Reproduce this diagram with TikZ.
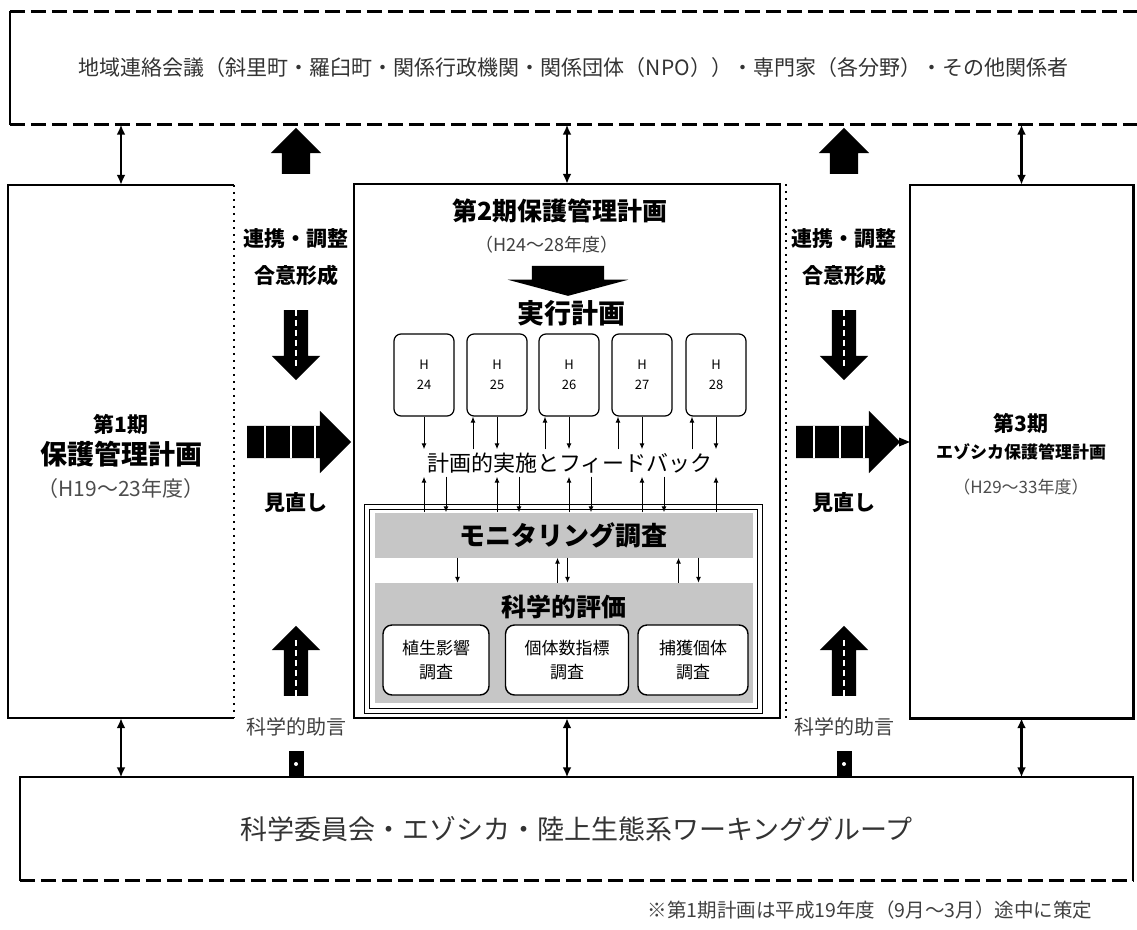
\documentclass[tikz,border=0pt]{standalone}
\usepackage{fontspec}
\setmainfont{Noto Sans CJK JP}
\usetikzlibrary{shapes,arrows,arrows.meta,positioning}
\tikzset{
	plan/.style     = {inner sep=0pt},
	edge/.style     = {line width=2pt},
	dashline/.style = {line width=2.6pt, dash pattern=on 15pt off 6pt},
	dotline/.style  = {line width=2pt, dash pattern=on 2pt off 5pt},
	yearbox/.style  = {draw, line width=1.2pt, rounded corners=7pt, minimum width=60pt,
		minimum height=82pt, align=center, font=\fontsize{13}{20}\selectfont},
	band/.style     = {fill=gray!45, inner sep=0pt},
	survey/.style   = {draw, line width=1.4pt, fill=white, rounded corners=9pt,
		minimum height=70pt, align=center, font=\fontsize{17}{24}\selectfont},
	fat/.style      = {single arrow, fill=black, inner sep=0pt, single arrow head extend=12pt},
	both/.style     = {{Latex[length=10pt,width=9pt]}-{Latex[length=10pt,width=9pt]}, line width=2.2pt},
	thin/.style     = {>={Latex[length=6pt,width=5pt]}, line width=1pt},
	seam/.style     = {white, line width=1.6pt, dash pattern=on 6pt off 4pt, shorten >=14pt},
	side/.style     = {font=\fontsize{21}{24}\selectfont\bfseries}
}
\newcommand{\yr}[1]{H\\#1}
\newcommand{\shaft}[1]{\rule{0pt}{#1}}

\begin{document}
\begin{tikzpicture}[x=1pt, y=-1pt]
	\useasboundingbox (0,0) rectangle (1137,929);

	% upper and lower frames
	\node (council) at (573.5,68) [plan, minimum width=1127pt, minimum height=113pt,
		text=black!80, font=\fontsize{21}{24}\selectfont]
		{地域連絡会議（斜里町・羅臼町・関係行政機関・関係団体（NPO））・専門家（各分野）・その他関係者};
	\draw[dashline] (council.north west) -- (council.north east);
	\draw[dashline] (council.south west) -- (council.south east);
	\draw[edge] (council.north west) -- (council.south west);

	\node (wg) at (576.5,829) [plan, minimum width=1113pt, minimum height=103pt,
		text=black!80, font=\fontsize{27}{30}\selectfont]
		{科学委員会・エゾシカ・陸上生態系ワーキンググループ};
	\draw[edge] (wg.south west) -- (wg.north west) -- (wg.north east) -- (wg.south east);
	\draw[dashline] (wg.south west) -- (wg.south east);

	% the three plans
	\node (plan1) at (121,451.5) [plan, minimum width=226pt, minimum height=533pt] {};
	\draw[edge] (plan1.north east) -- (plan1.north west) -- (plan1.south west) -- (plan1.south east);
	\draw[dotline] (plan1.north east) -- (plan1.south east);
	\node (plan2) at (567,451) [plan, minimum width=426pt, minimum height=534pt] {};
	\draw[edge] (plan2.north west) rectangle (plan2.south east);
	\draw[dotline] ([xshift=6pt]plan2.north east) -- ([xshift=6pt]plan2.south east);
	\node (plan3) at (1021.5,451.5) [plan, minimum width=223pt, minimum height=533pt] {};
	\draw[edge, line width=2.6pt] (plan3.north west) rectangle (plan3.south east);

	\node (p1a) at (121,424) [font=\fontsize{21}{24}\selectfont\bfseries] {第1期};
	\node (p1b) at (121,454) [font=\fontsize{27}{30}\selectfont\bfseries] {保護管理計画};
	\node (p1c) at (121,489) [text=black!70, font=\fontsize{21}{24}\selectfont] {（H19〜23年度）};
	\node (p3a) at (1021,423) [font=\fontsize{21}{24}\selectfont\bfseries] {第3期};
	\node (p3b) at (1021,452) [font=\fontsize{17}{20}\selectfont\bfseries] {エゾシカ保護管理計画};
	\node (p3c) at (1021,487) [text=black!70, font=\fontsize{17}{20}\selectfont] {（H29〜33年度）};

	% inside the second plan
	\node (p2a) at (560,211) [font=\fontsize{25}{28}\selectfont\bfseries] {第2期保護管理計画};
	\node (p2b) at (547,245) [text=black!75, font=\fontsize{18}{20}\selectfont] {（H24〜28年度）};
	\node (fatdn) at (568,276) [fat, rotate=-90, minimum height=30pt,
		single arrow head extend=24pt, single arrow tip angle=150] {\shaft{72pt}};
	\node (exec) at (571,313) [font=\fontsize{27}{30}\selectfont\bfseries] {実行計画};

	\foreach \i/\x in {24/424,25/497,26/569,27/642,28/716}
		\node (h\i) at (\x,375) [yearbox] {\yr{\i}};

	\node (fb) at (570,463) [font=\fontsize{22}{24}\selectfont] {計画的実施とフィードバック};
	\foreach \i in {24,25,26,27,28}
		\draw[thin,->] (h\i.south) -- (h\i.south |- fb.north);
	\foreach \i in {25,26,27,28}
		\draw[thin,->] ([xshift=-24pt]h\i.south |- fb.north) -- ([xshift=-24pt]h\i.south);

	\node (frame) at (563.5,609) [draw, double, double distance=4pt, line width=1.4pt,
		minimum width=393pt, minimum height=204pt] {};
	\node (mon) at (563.5,535) [band, minimum width=378pt, minimum height=45pt,
		font=\fontsize{26}{28}\selectfont\bfseries] {モニタリング調査};
	\foreach \i in {24,25,26,27,28}
		\draw[thin,->] (h\i.south |- mon.north) -- (h\i.south |- fb.south);
	\foreach \i in {24,25,26,27}
		\draw[thin,->] ([xshift=22pt]h\i.south |- fb.south) -- ([xshift=22pt]h\i.south |- mon.north);

	\node (eval) at (563.5,643) [band, minimum width=378pt, minimum height=120pt] {};
	\node (evalt) at (564,607) [font=\fontsize{25}{28}\selectfont\bfseries] {科学的評価};
	\node (sv1) at (436,660) [survey, minimum width=106pt] {植生影響\\調査};
	\node (sv2) at (567,660) [survey, minimum width=123pt] {個体数指標\\調査};
	\node (sv3) at (693,660) [survey, minimum width=110pt] {捕獲個体\\調査};
	\foreach \dx/\dir in {-106/->, -6/<-, 4/->, 115/<-, 135/->}
		\draw[thin,\dir] ([xshift=\dx pt]mon.south) -- ([xshift=\dx pt]mon.south |- eval.north);

	% links to the upper and lower frames
	\foreach \p in {plan1,plan2,plan3} {
		\draw[both] (council.south -| \p.north) -- (\p.north);
		\draw[both] (\p.south) -- (\p.south |- wg.north);
	}

	% side columns
	\foreach \s/\cx/\ax in {L/296/291,R/844/840} {
		\node (up\s) at (\cx,158) [fat, rotate=90, minimum height=46pt,
			single arrow head extend=11pt] {\shaft{28pt}};
		\node (ag\s) at (\cx,239) [side] {連携・調整};
		\node (ff\s) at (\cx,275) [side] {合意形成};
		\node (dn\s) at (\cx,339) [fat, rotate=-90, minimum height=70pt] {\shaft{24pt}};
		\draw[seam] (dn\s.tail) -- (dn\s.tip);
		\node (rt\s) at (\ax,442) [fat, minimum height=104pt,
			single arrow head extend=15pt] {\shaft{32pt}};
		\foreach \dx in {-26,0,24}
			\draw[white, line width=2.4pt] ([xshift=\dx pt]rt\s.north) -- ([xshift=\dx pt]rt\s.south);
		\node (rev\s) at (\cx,503) [side] {見直し};
		\node (sc\s) at (\cx,667) [fat, rotate=90, minimum height=70pt] {\shaft{24pt}};
		\draw[seam] (sc\s.tail) -- (sc\s.tip);
		\node (adv\s) at (\cx,727) [text=black!75, font=\fontsize{20}{22}\selectfont] {科学的助言};
		\node (bar\s) at (\cx,764) [fill=black, minimum width=15pt, minimum height=27pt, inner sep=0pt] {};
		\fill[white] (bar\s.center) circle (2pt);
	}
	\node (tipR) at (902,442) [isosceles triangle, fill=black, inner sep=0pt, minimum size=9pt] {};

	\node (note) at (870,910) [text=black!75, font=\fontsize{19.5}{22}\selectfont]
		{※第1期計画は平成19年度（9月〜3月）途中に策定};
\end{tikzpicture}
\end{document}
